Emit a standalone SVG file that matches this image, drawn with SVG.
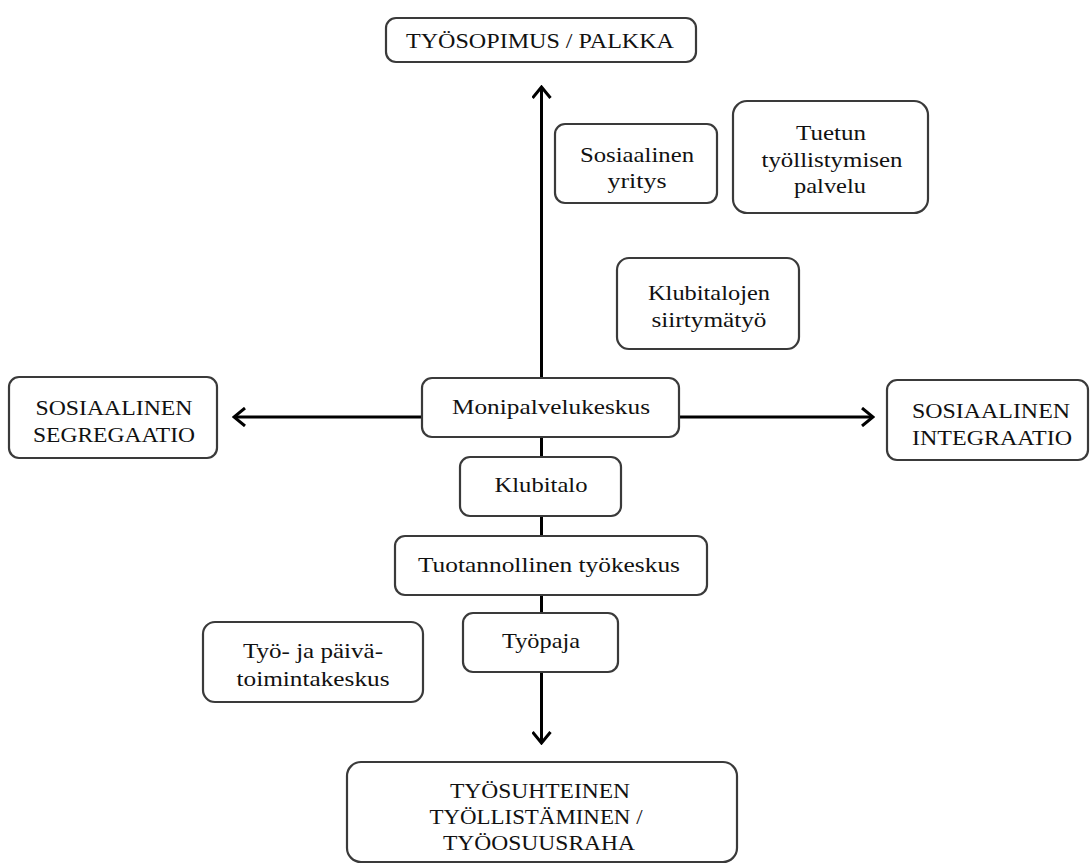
<svg xmlns="http://www.w3.org/2000/svg" width="1091" height="866" viewBox="0 0 1091 866">
<defs>
<marker id="arr" viewBox="0 0 14 20" refX="12" refY="10" markerWidth="14" markerHeight="20" markerUnits="userSpaceOnUse" orient="auto">
<path d="M1,1 L12,10 L1,19" fill="none" stroke="#000" stroke-width="3"/>
</marker>
<style>
.box{fill:#fff;stroke:#3a3a3a;stroke-width:2.2}
.t{font-family:"Liberation Serif","Times New Roman",serif;font-size:22px;fill:#111;text-anchor:middle}
.ax{stroke:#000;stroke-width:3;fill:none}
</style>
</defs>
<rect width="1091" height="866" fill="#fff"/>
<g id="connectors">
<line class="ax" x1="541.5" y1="417" x2="541.5" y2="87" marker-end="url(#arr)"/>
<line class="ax" x1="541.5" y1="417" x2="541.5" y2="743" marker-end="url(#arr)"/>
<line class="ax" x1="541.5" y1="417" x2="234" y2="417" marker-end="url(#arr)"/>
<line class="ax" x1="541.5" y1="417" x2="873" y2="417" marker-end="url(#arr)"/>
</g>
<g id="n-tyosopimus">
<rect class="box" x="386" y="18" width="310" height="44" rx="10"/>
<text class="t" x="540" y="48" textLength="268" lengthAdjust="spacingAndGlyphs">TYÖSOPIMUS / PALKKA</text>
</g>
<g id="n-sosyritys">
<rect class="box" x="555" y="124" width="162" height="79" rx="10"/>
<text class="t" x="637" y="162" textLength="114" lengthAdjust="spacingAndGlyphs">Sosiaalinen</text>
<text class="t" x="637" y="188" textLength="59" lengthAdjust="spacingAndGlyphs">yritys</text>
</g>
<g id="n-tuetun">
<rect class="box" x="733" y="101" width="195" height="112" rx="14"/>
<text class="t" x="831" y="140" textLength="70" lengthAdjust="spacingAndGlyphs">Tuetun</text>
<text class="t" x="832" y="167" textLength="141" lengthAdjust="spacingAndGlyphs">työllistymisen</text>
<text class="t" x="830" y="193" textLength="72" lengthAdjust="spacingAndGlyphs">palvelu</text>
</g>
<g id="n-klubsiirtyma">
<rect class="box" x="617" y="258" width="182" height="91" rx="12"/>
<text class="t" x="709" y="300" textLength="122" lengthAdjust="spacingAndGlyphs">Klubitalojen</text>
<text class="t" x="709" y="327" textLength="115" lengthAdjust="spacingAndGlyphs">siirtymätyö</text>
</g>
<g id="n-segregaatio">
<rect class="box" x="9" y="377" width="208" height="81" rx="10"/>
<text class="t" x="114" y="415" textLength="157" lengthAdjust="spacingAndGlyphs">SOSIAALINEN</text>
<text class="t" x="114" y="442" textLength="162" lengthAdjust="spacingAndGlyphs">SEGREGAATIO</text>
</g>
<g id="n-integraatio">
<rect class="box" x="887" y="380" width="201" height="80" rx="10"/>
<text class="t" x="991" y="418" textLength="158" lengthAdjust="spacingAndGlyphs">SOSIAALINEN</text>
<text class="t" x="992" y="445" textLength="160" lengthAdjust="spacingAndGlyphs">INTEGRAATIO</text>
</g>
<g id="n-monipalvelu">
<rect class="box" x="422" y="378" width="257" height="59" rx="10"/>
<text class="t" x="551" y="414" textLength="198" lengthAdjust="spacingAndGlyphs">Monipalvelukeskus</text>
</g>
<g id="n-klubitalo">
<rect class="box" x="460" y="457" width="161" height="59" rx="10"/>
<text class="t" x="541" y="492" textLength="93" lengthAdjust="spacingAndGlyphs">Klubitalo</text>
</g>
<g id="n-tuotannollinen">
<rect class="box" x="395" y="536" width="312" height="59" rx="10"/>
<text class="t" x="549" y="572" textLength="262" lengthAdjust="spacingAndGlyphs">Tuotannollinen työkeskus</text>
</g>
<g id="n-tyopaja">
<rect class="box" x="463" y="613" width="155" height="59" rx="10"/>
<text class="t" x="541" y="648" textLength="78" lengthAdjust="spacingAndGlyphs">Työpaja</text>
</g>
<g id="n-paivatoiminta">
<rect class="box" x="203" y="622" width="220" height="80" rx="12"/>
<text class="t" x="313" y="658" textLength="140" lengthAdjust="spacingAndGlyphs">Työ- ja päivä-</text>
<text class="t" x="313" y="686" textLength="153" lengthAdjust="spacingAndGlyphs">toimintakeskus</text>
</g>
<g id="n-tyosuhteinen">
<rect class="box" x="347" y="762" width="390" height="100" rx="14"/>
<text class="t" x="540" y="798" textLength="180" lengthAdjust="spacingAndGlyphs">TYÖSUHTEINEN</text>
<text class="t" x="536" y="824" textLength="213" lengthAdjust="spacingAndGlyphs">TYÖLLISTÄMINEN /</text>
<text class="t" x="539" y="850" textLength="192" lengthAdjust="spacingAndGlyphs">TYÖOSUUSRAHA</text>
</g>
</svg>
